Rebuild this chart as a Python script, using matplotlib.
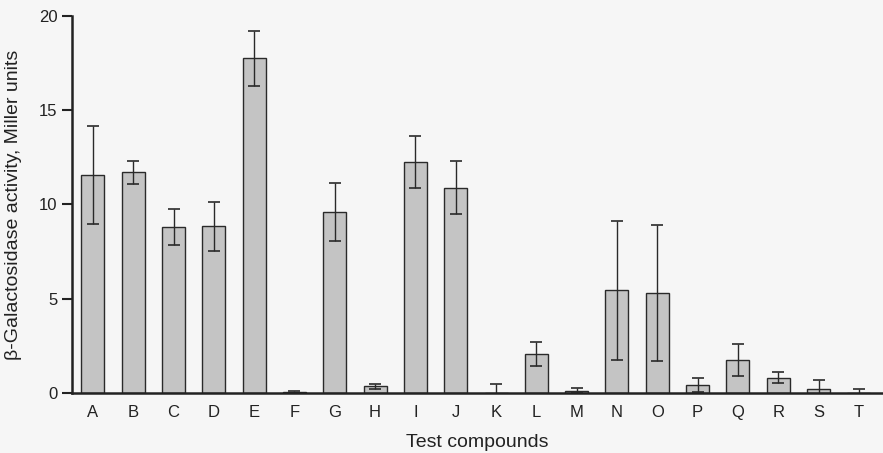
import matplotlib
matplotlib.use("Agg")
import matplotlib.pyplot as plt
import numpy as np

plt.rcParams['font.family'] = ['Liberation Sans', 'DejaVu Sans']

compounds = list("ABCDEFGHIJKLMNOPQRST")
activity = [11.55, 11.7, 8.8, 8.85, 17.75, 0.05, 9.6, 0.35, 12.25, 10.9,
            0.0, 2.07, 0.12, 5.45, 5.3, 0.42, 1.77, 0.81, 0.23, 0.0]
errors = [2.6, 0.6, 0.95, 1.3, 1.45, 0.05, 1.55, 0.14, 1.4, 1.4,
          0.5, 0.63, 0.12, 3.7, 3.6, 0.35, 0.85, 0.28, 0.46, 0.2]

fig = plt.figure(figsize=(8.83, 4.53), dpi=100)
fig.patch.set_facecolor('#f6f6f6')
ax = fig.add_axes([0.0815, 0.1325, 0.9185, 0.8322])
ax.set_facecolor('#f6f6f6')

x = np.arange(len(compounds))
ax.bar(x, activity, width=0.57, color='#c4c4c4', edgecolor='#2a2a2a', linewidth=1.0,
       yerr=errors, capsize=4.5, error_kw=dict(ecolor='#2a2a2a', elinewidth=1.0, capthick=1.2))

ax.set_xlim(-0.52, 19.6)
ax.set_ylim(0, 20)
ax.set_yticks([0, 5, 10, 15, 20])
ax.set_xticks(x)
ax.set_xticklabels(compounds)
ax.tick_params(axis='x', length=0, pad=9, labelsize=12, colors='#222222')
ax.tick_params(axis='y', length=7, width=1.5, direction='out', labelsize=12, colors='#222222')
for s in ['top', 'right']:
    ax.spines[s].set_visible(False)
ax.spines['left'].set_linewidth(1.8)
ax.spines['bottom'].set_linewidth(1.8)
ax.spines['left'].set_color('#222222')
ax.spines['bottom'].set_color('#222222')

ax.set_ylabel("β-Galactosidase activity, Miller units", fontsize=14, color='#222222', labelpad=12)
ax.set_xlabel("Test compounds", fontsize=14, color='#222222', labelpad=10)

fig.savefig("out.png", dpi=100, facecolor=fig.get_facecolor())
